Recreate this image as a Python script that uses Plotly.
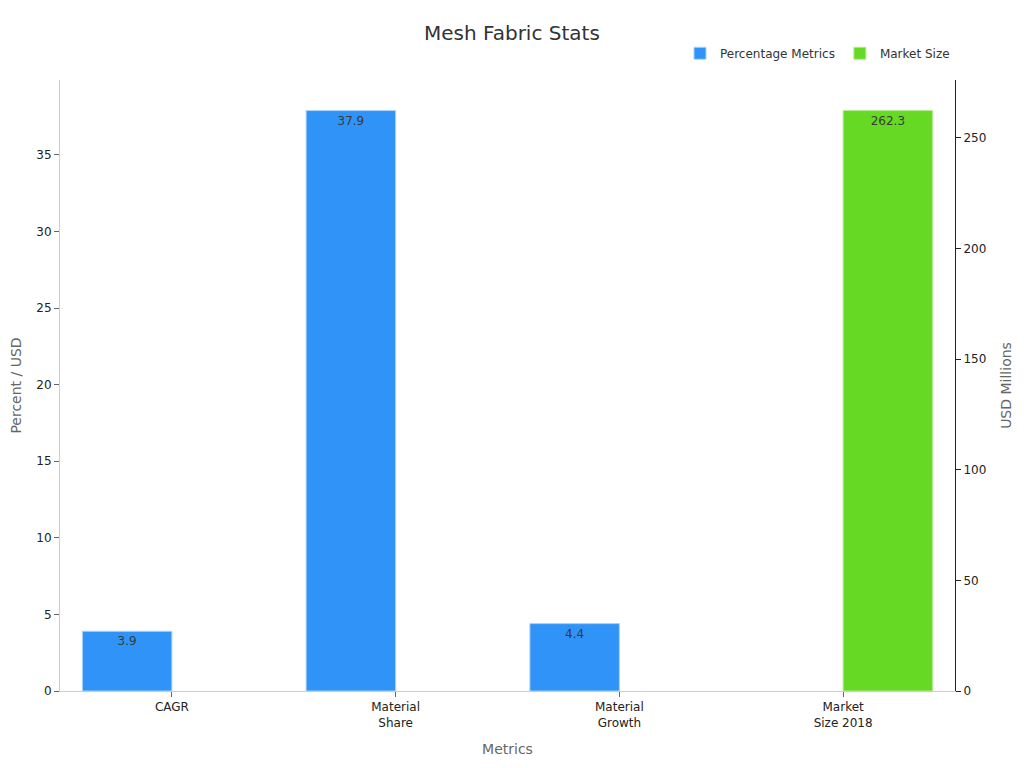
import plotly.graph_objects as go

categories = ["CAGR", "Material<br>Share", "Material<br>Growth", "Market<br>Size 2018"]
pct_values = [3.9, 37.9, 4.4, None]
market_values = [None, None, None, 262.3]

fig = go.Figure()
fig.add_trace(go.Bar(
    x=categories, y=pct_values, name="Percentage Metrics",
    marker=dict(color="#2f93f8", line=dict(color="#a9d3fb", width=1)),
    text=[f"{v}" if v is not None else "" for v in pct_values],
    textposition="inside", insidetextanchor="end",
    textfont=dict(color="#3a3a3a", size=12),
    offsetgroup="1",
    yaxis="y",
))
fig.add_trace(go.Bar(
    x=categories, y=market_values, name="Market Size",
    marker=dict(color="#66d924", line=dict(color="#b3ec92", width=1)),
    text=[f"{v}" if v is not None else "" for v in market_values],
    textposition="inside", insidetextanchor="end",
    textfont=dict(color="#3a3a3a", size=12),
    offsetgroup="2",
    yaxis="y2",
))

fig.update_layout(
    width=1016, height=760,
    paper_bgcolor="white", plot_bgcolor="white",
    font=dict(family="DejaVu Sans", size=12, color="#333333"),
    title=dict(text="Mesh Fabric Stats", x=0.496, xanchor="center", y=0.967, yanchor="middle",
               font=dict(size=20, color="#333333")),
    barmode="group",
    margin=dict(l=52, r=69, t=72, b=77, autoexpand=False),
    showlegend=True,
    legend=dict(orientation="h", x=1, xanchor="right", y=1.02, yanchor="bottom",
                font=dict(size=12, color="#333333")),
    xaxis=dict(title=dict(text="Metrics", font=dict(size=14, color="#666666")),
               showline=True, linecolor="#cccccc", ticks="outside", tickcolor="#666666",
               ticklen=5, showgrid=False, automargin=False,
               tickfont=dict(size=12, color="#222222")),
    yaxis=dict(title=dict(text="Percent / USD", font=dict(size=14, color="#666666")),
               showline=True, linecolor="#cccccc", ticks="outside", tickcolor="#666666",
               ticklen=5, showgrid=False, zeroline=False, rangemode="tozero",
               automargin=False, tickfont=dict(size=12, color="#222222")),
    yaxis2=dict(title=dict(text="USD Millions", font=dict(size=14, color="#666666")),
                overlaying="y", side="right", showline=True, linecolor="#222222",
                ticks="outside", tickcolor="#222222", ticklen=5, showgrid=False,
                zeroline=False, rangemode="tozero", automargin=False,
                tickfont=dict(size=12, color="#222222")),
)

fig.write_html("out.html")
